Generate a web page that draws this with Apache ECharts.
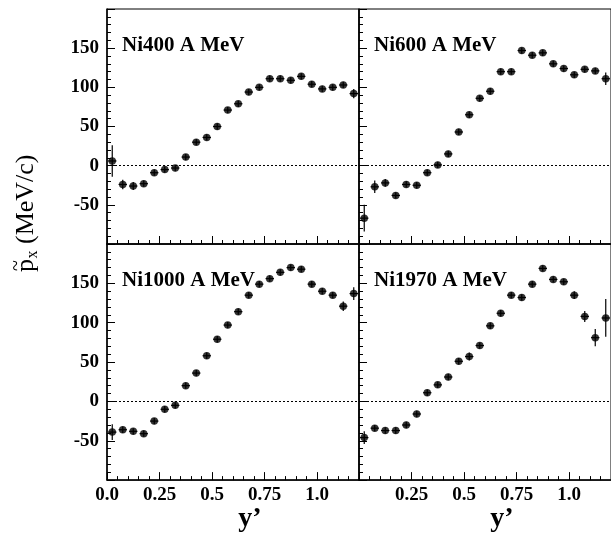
<!DOCTYPE html>
<html>
<head>
<meta charset="utf-8">
<script src="https://cdn.jsdelivr.net/npm/echarts@6/dist/echarts.min.js"></script>
<style>
html,body{margin:0;padding:0;background:#fff;}
#chart{width:611px;height:534px;}
</style>
</head>
<body>
<div id="chart"></div>
<script>
// ---- data ----
const yPrime = [0.025, 0.075, 0.125, 0.175, 0.225, 0.275, 0.325, 0.375, 0.425, 0.475, 0.525, 0.575,
                0.625, 0.675, 0.725, 0.775, 0.825, 0.875, 0.925, 0.975, 1.025, 1.075, 1.125, 1.175];

const ni400    = [6, -24, -26, -23, -9, -5, -3, 11, 30, 36, 50, 71, 79, 94, 100, 111, 111, 109, 114, 104, 98, 100, 103, 92];
const ni400Err = [20, 6, 5, 4, 4, 4, 4, 4, 4, 4, 4, 4, 4, 4, 4, 4, 4, 4, 4, 4, 4, 4, 4, 6];

const ni600    = [-67, -27, -22, -38, -24, -25, -9, 1, 15, 43, 65, 86, 95, 120, 120, 147, 141, 144, 130, 124, 116, 123, 121, 111];
const ni600Err = [17, 8, 5, 4, 4, 4, 4, 4, 4, 4, 4, 4, 4, 4, 4, 4, 4, 4, 4, 4, 4, 4, 4, 8];

const ni1000    = [-39, -36, -38, -41, -25, -10, -5, 20, 36, 58, 79, 97, 114, 135, 149, 156, 164, 170, 168, 149, 140, 135, 121, 137];
const ni1000Err = [10, 4, 4, 4, 4, 4, 4, 4, 4, 4, 4, 4, 4, 4, 4, 4, 4, 4, 4, 4, 4, 4, 6, 8];

const ni1970    = [-46, -34, -37, -37, -30, -16, 11, 21, 31, 51, 57, 71, 96, 112, 135, 132, 149, 169, 155, 152, 135, 108, 81, 106];
const ni1970Err = [8, 4, 4, 4, 4, 4, 4, 4, 4, 4, 5, 4, 4, 4, 4, 4, 4, 4, 4, 4, 5, 7, 11, 24];

const panelLabels = ['Ni400 A MeV', 'Ni600 A MeV', 'Ni1000 A MeV', 'Ni1970 A MeV'];
const xTickLabels = {0: '0.0', 0.25: '0.25', 0.5: '0.5', 0.75: '0.75', 1: '1.0'};
const yTickLabels = [-50, 0, 50, 100, 150];
const xHalfWidth = 0.02;

const panels = [
  {y: ni400, e: ni400Err},
  {y: ni600, e: ni600Err},
  {y: ni1000, e: ni1000Err},
  {y: ni1970, e: ni1970Err}
];

// ---- layout ----
const FONT = 'Liberation Serif';
const grids = [
  {left: 107, top: 9,   width: 252, height: 235},
  {left: 359, top: 9,   width: 254, height: 235},
  {left: 107, top: 244, width: 252, height: 237},
  {left: 359, top: 244, width: 254, height: 237}
];

const chart = echarts.init(document.getElementById('chart'), null, {renderer: 'canvas'});

const xAxes = [], yAxes = [], series = [], graphics = [];
grids.forEach((g, i) => {
  const isBottom = i >= 2;
  const isLeft = i % 2 === 0;
  xAxes.push({
    gridIndex: i, type: 'value', min: 0, max: 1.2, interval: 0.25,
    axisLine: {show: true, onZero: false, lineStyle: {color: '#000', width: 1.5}},
    axisTick: {show: true, inside: true, length: 8, lineStyle: {color: '#000', width: 1}},
    minorTick: {show: true, splitNumber: 5, length: 4, lineStyle: {color: '#000', width: 1}},
    splitLine: {show: false},
    axisLabel: {
      show: isBottom, margin: 5, showMaxLabel: false,
      fontFamily: FONT, fontWeight: 'bold', fontSize: 19, color: '#000',
      formatter: v => {
        if (!isLeft && v === 0) return '';
        const k = Math.round(v * 100) / 100;
        return xTickLabels[k] !== undefined ? xTickLabels[k] : '';
      }
    },
    name: isBottom ? 'y\u2019' : '',
    nameLocation: 'middle', nameGap: 14,
    nameTextStyle: {fontFamily: FONT, fontWeight: 'bold', fontSize: 28, color: '#000',
                    verticalAlign: 'top', padding: [0, 0, 0, 34]}
  });
  yAxes.push({
    gridIndex: i, type: 'value', min: -100, max: 200, interval: 50,
    axisLine: {show: true, onZero: false, lineStyle: {color: '#000', width: 1.5}},
    axisTick: {show: true, inside: true, length: 8, lineStyle: {color: '#000', width: 1}},
    minorTick: {show: true, splitNumber: 5, length: 4, lineStyle: {color: '#000', width: 1}},
    splitLine: {show: false},
    axisLabel: {
      show: isLeft, margin: 8, showMinLabel: false, showMaxLabel: false,
      fontFamily: FONT, fontWeight: 'bold', fontSize: 19, color: '#000',
      formatter: v => (yTickLabels.indexOf(v) >= 0 ? String(v) : '')
    }
  });
  const p = panels[i];
  const pts = yPrime.map((x, k) => [x, p.y[k], p.e[k]]);
  series.push({
    type: 'custom', xAxisIndex: i, yAxisIndex: i, clip: true, silent: true,
    data: pts, encode: {x: 0, y: 1},
    renderItem: (params, api) => {
      const x = api.value(0), y = api.value(1), e = api.value(2);
      const a = api.coord([x - xHalfWidth, y]);
      const b = api.coord([x + xHalfWidth, y]);
      const c = api.coord([x, y - e]);
      const d = api.coord([x, y + e]);
      const st = {stroke: '#000', lineWidth: 1.2};
      return {type: 'group', children: [
        {type: 'line', shape: {x1: a[0], y1: a[1], x2: b[0], y2: b[1]}, style: st},
        {type: 'line', shape: {x1: c[0], y1: c[1], x2: d[0], y2: d[1]}, style: st}
      ]};
    },
    z: 3
  });
  series.push({
    type: 'scatter', xAxisIndex: i, yAxisIndex: i, silent: true,
    data: pts.map(q => [q[0], q[1]]),
    symbol: 'circle', symbolSize: 7.5,
    itemStyle: {color: '#000'},
    z: 4,
    markLine: {
      silent: true, symbol: ['none', 'none'], label: {show: false},
      lineStyle: {color: '#000', type: [2, 2], width: 1},
      data: [{yAxis: 0}]
    }
  });
  graphics.push({
    type: 'text', left: g.left + 15, top: g.top + 26,
    style: {text: panelLabels[i], fontFamily: FONT, fontWeight: 'bold', fontSize: 21, fill: '#000'}
  });
});

// y axis title: p~_x (MeV/c), rotated
graphics.push({
  type: 'group', x: 26, y: 272, rotation: Math.PI / 2,
  children: [
    {type: 'text', x: 0, y: 0, style: {text: 'p', fontFamily: FONT, fontSize: 26, fill: '#000', verticalAlign: 'middle', align: 'left'}},
    {type: 'text', x: 6.5, y: -9, style: {text: '~', fontFamily: FONT, fontSize: 20, fill: '#000', verticalAlign: 'middle', align: 'center'}},
    {type: 'text', x: 13.5, y: 7, style: {text: 'x', fontFamily: FONT, fontSize: 16, fill: '#000', verticalAlign: 'middle', align: 'left'}},
    {type: 'text', x: 28, y: 0, style: {text: '(MeV/c)', fontFamily: FONT, fontSize: 26, fill: '#000', verticalAlign: 'middle', align: 'left'}}
  ]
});

chart.setOption({
  animation: false,
  backgroundColor: '#fff',
  grid: grids.map(g => Object.assign({show: true, borderColor: '#000', borderWidth: 1, backgroundColor: 'transparent'}, g)),
  xAxis: xAxes,
  yAxis: yAxes,
  series: series,
  graphic: graphics
});
</script>
</body>
</html>
